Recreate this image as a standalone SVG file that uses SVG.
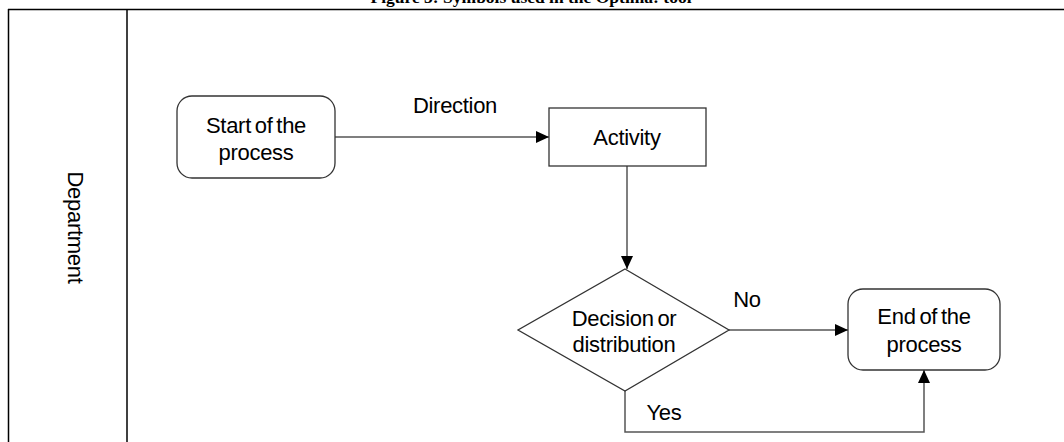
<svg xmlns="http://www.w3.org/2000/svg" width="1064" height="442" viewBox="0 0 1064 442">
<style>
.t{font-family:"Liberation Sans",Arial,sans-serif;font-size:22px;letter-spacing:-0.3px;word-spacing:-2px;fill:#000;text-anchor:middle}
.n{fill:#fff;stroke:#333;stroke-width:1.3}
.c{fill:none;stroke:#555;stroke-width:1.5}
.f{fill:none;stroke:#000;stroke-width:1.5}
</style>
<defs>
<marker id="ah" markerWidth="13" markerHeight="12" refX="13" refY="6" orient="auto" markerUnits="userSpaceOnUse">
<path d="M0,0 L13,6 L0,12 Z" fill="#000"/>
</marker>
</defs>
<rect width="1064" height="442" fill="#fff"/>
<text x="531" y="3" font-family="'Liberation Serif','Times New Roman',serif" font-weight="bold" font-size="17.5" text-anchor="middle">Figure 3: Symbols used in the Optima! tool</text>
<g id="lane">
<line class="f" x1="8" y1="9.5" x2="1064" y2="9.5" stroke-width="2"/>
<line class="f" x1="8.5" y1="9" x2="8.5" y2="442"/>
<line class="f" x1="127" y1="9" x2="127" y2="442"/>
<text class="t" transform="translate(68,227.5) rotate(90)">Department</text>
</g>
<g id="connectors">
<line class="c" x1="335" y1="137" x2="549" y2="137" marker-end="url(#ah)"/>
<line class="c" x1="627" y1="166" x2="627" y2="269" marker-end="url(#ah)"/>
<line class="c" x1="729" y1="330" x2="848" y2="330" marker-end="url(#ah)"/>
<polyline class="c" points="625,391 625,432 924,432 924,370" marker-end="url(#ah)"/>
<text class="t" x="455" y="113">Direction</text>
<text class="t" x="747" y="307">No</text>
<text class="t" x="664" y="420">Yes</text>
</g>
<g id="start">
<rect class="n" x="177" y="96" width="158" height="82" rx="15"/>
<text class="t" x="256" y="133">Start of the</text>
<text class="t" x="256" y="160">process</text>
</g>
<g id="activity">
<rect class="n" x="549" y="108" width="157" height="58"/>
<text class="t" x="627" y="145">Activity</text>
</g>
<g id="decision">
<polygon class="n" points="625,269 729,330 625,391 518,330"/>
<text class="t" x="624" y="326">Decision or</text>
<text class="t" x="624" y="352">distribution</text>
</g>
<g id="end">
<rect class="n" x="848" y="289" width="152" height="81" rx="15"/>
<text class="t" x="924" y="324">End of the</text>
<text class="t" x="924" y="352">process</text>
</g>
</svg>
